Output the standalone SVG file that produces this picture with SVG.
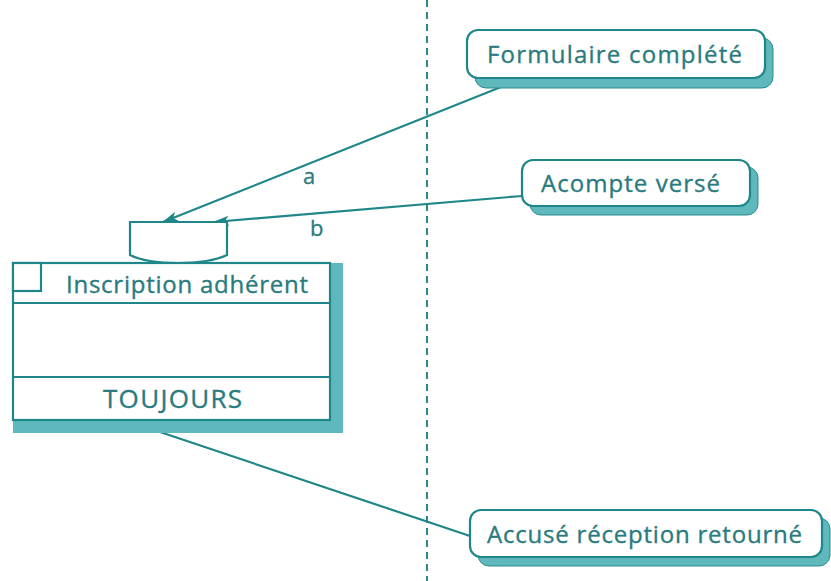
<svg xmlns="http://www.w3.org/2000/svg" width="831" height="581" viewBox="0 0 831 581">
<defs>
<style>
.ln{stroke:#1f8789;stroke-width:2.2;fill:none}
.box{fill:#ffffff;stroke:#1f8789;stroke-width:2.2}
.sh{fill:#5fb8bb;stroke:#2a8d90;stroke-width:1}
.t{font-family:"Open Sans","Liberation Sans",Arial,sans-serif;font-size:24px;fill:#2a7b7e;stroke:#2a7b7e;stroke-width:0.35}
.lbl{font-family:"Open Sans","Liberation Sans",Arial,sans-serif;font-size:22px;fill:#2a7b7e;stroke:#2a7b7e;stroke-width:0.3}
</style>
<marker id="arr" markerWidth="16" markerHeight="10" refX="15" refY="5" orient="auto" markerUnits="userSpaceOnUse">
<path d="M0,0 L16,5 L0,10 L4,5 Z" fill="#1f8789"/>
</marker>
</defs>
<rect width="831" height="581" fill="#ffffff"/>
<line x1="427" y1="0" x2="427" y2="581" stroke="#2a8a8c" stroke-width="2" stroke-dasharray="7,5"/>
<g id="connectors">
<line class="ln" x1="506" y1="85" x2="163" y2="222" marker-end="url(#arr)"/>
<line class="ln" x1="522" y1="196" x2="214" y2="222" marker-end="url(#arr)"/>
<line class="ln" x1="160" y1="432" x2="470" y2="536"/>
<text class="lbl" x="303" y="184">a</text>
<text class="lbl" x="310" y="236">b</text>
</g>
<g id="formulaire">
<rect class="sh" x="475" y="38" width="298" height="50" rx="11"/>
<rect class="box" x="467" y="30" width="298" height="48" rx="11"/>
<text class="t" x="487" y="63" textLength="255">Formulaire complété</text>
</g>
<g id="acompte">
<rect class="sh" x="530" y="167" width="228" height="48" rx="11"/>
<rect class="box" x="522" y="160" width="228" height="46" rx="11"/>
<text class="t" x="541" y="192" textLength="179">Acompte versé</text>
</g>
<g id="accuse">
<rect class="sh" x="478" y="518" width="352" height="48" rx="11"/>
<rect class="box" x="470" y="510" width="352" height="47" rx="11"/>
<text class="t" x="487" y="543" textLength="315">Accusé réception retourné</text>
</g>
<g id="evenement">
<path class="box" d="M130,222 L227,222 L227,255 Q210,263 178,263 Q146,263 130,255 Z"/>
</g>
<g id="inscription">
<rect x="13" y="263" width="330" height="170" fill="#5fb8bb"/>
<rect class="box" x="13" y="263" width="317" height="157"/>
<rect class="box" x="13" y="263" width="28" height="28" fill="none"/>
<line class="ln" x1="13" y1="303" x2="330" y2="303"/>
<line class="ln" x1="13" y1="377" x2="330" y2="377"/>
<text class="t" x="66" y="293" textLength="242">Inscription adhérent</text>
<text class="t" x="103" y="408" style="font-size:26px" textLength="139">TOUJOURS</text>
</g>
</svg>
